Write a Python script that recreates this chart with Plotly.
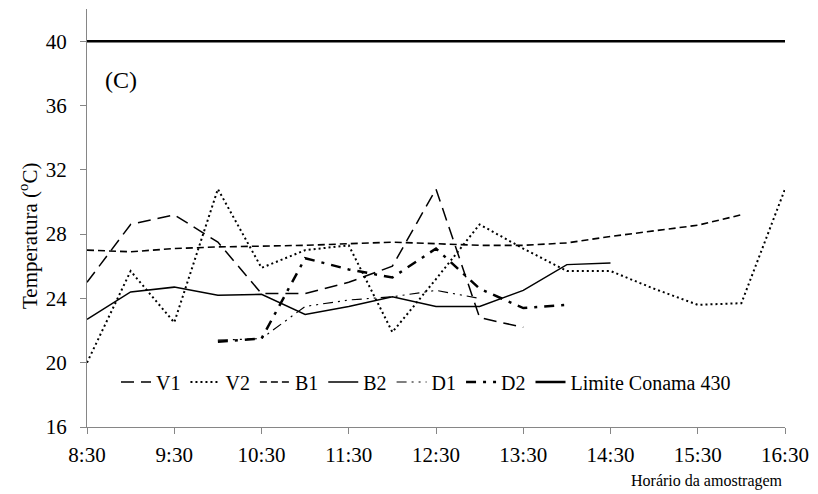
import plotly.graph_objects as go

# Times (hours) and tick labels
tick_vals = [8.5, 9.5, 10.5, 11.5, 12.5, 13.5, 14.5, 15.5, 16.5]
tick_text = ["8:30", "9:30", "10:30", "11:30", "12:30", "13:30", "14:30", "15:30", "16:30"]
y_ticks = [16, 20, 24, 28, 32, 36, 40]

t_v1 = [8.5, 9.0, 9.5, 10.0, 10.5, 11.0, 11.5, 12.0, 12.5, 13.0, 13.5]
v1 = [25.0, 28.6, 29.2, 27.5, 24.3, 24.3, 25.0, 26.0, 30.8, 22.8, 22.2]

t_v2 = [8.5, 9.0, 9.5, 10.0, 10.5, 11.0, 11.5, 12.0, 12.5, 13.0, 13.5, 14.0, 14.5, 15.0, 15.5, 16.0, 16.5]
v2 = [20.0, 25.7, 22.5, 30.8, 25.9, 27.0, 27.3, 21.9, 25.2, 28.6, 27.1, 25.7, 25.7, 24.6, 23.6, 23.7, 30.8]

t_b1 = [8.5, 9.0, 9.5, 10.0, 10.5, 11.0, 11.5, 12.0, 12.5, 13.0, 13.5, 14.0, 14.5, 15.0, 15.5, 16.0]
b1 = [27.0, 26.9, 27.1, 27.2, 27.25, 27.3, 27.4, 27.5, 27.4, 27.3, 27.3, 27.45, 27.85, 28.2, 28.55, 29.2]

t_b2 = [8.5, 9.0, 9.5, 10.0, 10.5, 11.0, 11.5, 12.0, 12.5, 13.0, 13.5, 14.0, 14.5]
b2 = [22.7, 24.4, 24.7, 24.2, 24.25, 23.0, 23.5, 24.1, 23.5, 23.5, 24.5, 26.1, 26.2]

t_d1 = [10.0, 10.5, 11.0, 11.5, 12.0, 12.5, 13.0]
d1 = [21.4, 21.5, 23.5, 23.9, 24.1, 24.5, 24.0]

t_d2 = [10.0, 10.5, 11.0, 11.5, 12.0, 12.5, 13.0, 13.5, 14.0]
d2 = [21.3, 21.5, 26.5, 25.8, 25.3, 27.1, 24.6, 23.4, 23.6]

t_lim = [8.5, 16.5]
lim = [40, 40]

FONT = "Liberation Serif"

W, H = 818, 494
L, R, T, B = 87, 33, 9, 67
pw, ph = W - L - R, H - T - B


def px_x(x):
    return (x - L) / pw


def px_y(y):
    return (H - B - y) / ph


fig = go.Figure()
fig.add_trace(go.Scatter(x=t_v1, y=v1, name="V1", mode="lines",
                         line=dict(color="black", width=1.5, dash="13px,7px")))
fig.add_trace(go.Scatter(x=t_v2, y=v2, name="V2", mode="lines",
                         line=dict(color="black", width=2, dash="2px,3px")))
fig.add_trace(go.Scatter(x=t_b1, y=b1, name="B1", mode="lines",
                         line=dict(color="black", width=1.6, dash="7px,4px")))
fig.add_trace(go.Scatter(x=t_b2, y=b2, name="B2", mode="lines",
                         line=dict(color="black", width=1.5)))
fig.add_trace(go.Scatter(x=t_d1, y=d1, name="D1", mode="lines",
                         line=dict(color="black", width=1.2, dash="10px,5px,2px,5px,2px,5px")))
fig.add_trace(go.Scatter(x=t_d2, y=d2, name="D2", mode="lines",
                         line=dict(color="black", width=2.5, dash="10px,7px,3px,7px")))
fig.add_trace(go.Scatter(x=t_lim, y=lim, name="Limite Conama 430", mode="lines",
                         line=dict(color="black", width=2.5)))

fig.update_layout(
    width=W, height=H,
    margin=dict(l=L, r=R, t=T, b=B),
    paper_bgcolor="white", plot_bgcolor="white",
    font=dict(family=FONT, size=21, color="black"),
    showlegend=True,
    legend=dict(orientation="h", x=px_x(116), y=px_y(382), xanchor="left", yanchor="middle",
                bgcolor="rgba(0,0,0,0)", font=dict(family=FONT, size=20, color="black"),
                itemwidth=30, traceorder="normal"),
    xaxis=dict(range=[8.5, 16.5], tickmode="array", tickvals=tick_vals, ticktext=tick_text,
               showgrid=False, zeroline=False, showline=True, linecolor="#868686", linewidth=1,
               ticks="outside", ticklen=6, tickcolor="#868686",
               tickfont=dict(family=FONT, size=21, color="black"), ticklabelstandoff=3),
    yaxis=dict(range=[16, 42], tickmode="array", tickvals=y_ticks,
               showgrid=False, zeroline=False, showline=True, linecolor="#868686", linewidth=1,
               ticks="outside", ticklen=6, tickcolor="#868686",
               tickfont=dict(family=FONT, size=21, color="black"), ticklabelstandoff=9),
    annotations=[
        dict(text="(C)", x=px_x(121), y=px_y(80), xref="paper", yref="paper",
             xanchor="center", yanchor="middle", showarrow=False,
             font=dict(family=FONT, size=24, color="black")),
        dict(text="Temperatura (<sup>o</sup>C)", x=px_x(28), y=px_y(236), xref="paper", yref="paper",
             xanchor="center", yanchor="middle", textangle=-90, showarrow=False,
             font=dict(family=FONT, size=21, color="black")),
        dict(text="Horário da amostragem", x=px_x(785), y=px_y(481), xref="paper", yref="paper",
             xanchor="right", yanchor="middle", showarrow=False,
             font=dict(family=FONT, size=16, color="black")),
    ],
)

fig.write_html("out.html")
